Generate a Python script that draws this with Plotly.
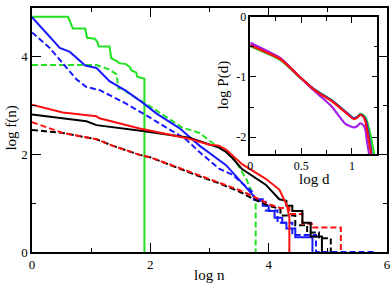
import plotly.graph_objects as go

# ---------------- main panel data: log f(n) vs log n ----------------
gs_x = [0, 0.61, 0.69, 0.9, 0.93, 1.06, 1.1, 1.13, 1.31, 1.34, 1.45, 1.47, 1.59, 1.62, 1.66, 1.68, 1.76, 1.78, 1.9, 1.9]
gs_y = [4.82, 4.82, 4.58, 4.58, 4.39, 4.37, 4.32, 4.21, 4.21, 3.97, 3.9, 3.87, 3.85, 3.82, 3.78, 3.72, 3.68, 3.59, 3.55, 0]

gd_x = [0, 1.09, 1.31, 1.43, 1.46, 1.52, 1.65, 1.87, 2.0, 2.54, 2.83, 3.0, 3.28, 3.39, 3.62, 3.76, 3.78, 3.78]
gd_y = [3.83, 3.83, 3.74, 3.64, 3.35, 3.35, 3.24, 3.08, 2.98, 2.55, 2.44, 2.28, 2.05, 1.96, 1.5, 1.1, 1.0, 0]

bs_x = [0, 0.47, 0.64, 0.9, 1.09, 1.31, 1.59, 1.87, 2.1, 2.49, 2.83, 3.28, 3.6, 3.79, 3.9, 3.9, 4.0, 4.0, 4.1, 4.1, 4.23, 4.23, 4.3, 4.3, 4.45, 4.45, 4.74, 4.74]
bs_y = [4.81, 4.18, 4.1, 3.82, 3.77, 3.5, 3.3, 3.06, 2.84, 2.54, 2.18, 1.78, 1.35, 1.08, 1.08, 0.95, 0.95, 0.84, 0.84, 0.7, 0.7, 0.6, 0.6, 0.48, 0.48, 0.3, 0.3, 0]

bd_x = [0, 0.3, 0.75, 0.92, 1.14, 1.48, 1.59, 1.93, 2.6, 2.83, 3.16, 3.39, 3.67, 3.75, 3.75, 3.95, 3.95, 4.15, 4.15, 4.4, 4.4, 4.8, 4.8, 5.8]
bd_y = [4.5, 4.18, 3.54, 3.38, 3.32, 3.12, 3.04, 2.8, 2.31, 2.05, 1.71, 1.58, 1.3, 1.2, 1.05, 1.05, 0.85, 0.85, 0.6, 0.6, 0.35, 0.35, 0, 0]

ks_x = [0, 0.52, 0.92, 1.09, 1.5, 1.87, 2.66, 3.0, 3.16, 3.28, 3.39, 3.55, 3.95, 4.18, 4.3, 4.3, 4.4, 4.4, 4.57, 4.57, 4.71, 4.71, 4.9, 4.9]
ks_y = [2.82, 2.74, 2.68, 2.6, 2.54, 2.48, 2.34, 2.2, 2.14, 2.05, 1.92, 1.7, 1.38, 1.08, 1.05, 0.95, 0.95, 0.84, 0.84, 0.6, 0.6, 0.32, 0.32, 0]

rs_x = [0, 0.52, 1.09, 1.14, 1.82, 2.66, 3.0, 3.16, 3.28, 3.39, 3.55, 3.95, 4.18, 4.31, 4.35, 4.35]
rs_y = [3.02, 2.86, 2.78, 2.74, 2.53, 2.32, 2.2, 2.18, 2.1, 1.98, 1.8, 1.5, 1.28, 0.95, 0.7, 0]

kd_x = [0, 0.52, 1.09, 1.36, 1.82, 2.0, 2.83, 3.16, 3.5, 3.79, 4.0, 4.2, 4.2, 4.45, 4.45, 4.65, 4.65, 4.85, 4.85, 5.05, 5.05]
kd_y = [2.5, 2.44, 2.31, 2.18, 1.99, 1.94, 1.55, 1.41, 1.24, 1.06, 0.95, 0.88, 0.75, 0.75, 0.55, 0.55, 0.4, 0.4, 0.28, 0.28, 0]

rd_x = [0, 0.52, 1.09, 1.36, 1.82, 2.0, 2.83, 3.16, 3.5, 3.79, 4.0, 4.2, 4.35, 4.35, 4.57, 4.57, 4.73, 4.73, 5.22, 5.22]
rd_y = [2.66, 2.44, 2.31, 2.18, 1.99, 1.94, 1.57, 1.43, 1.27, 1.11, 0.98, 0.9, 0.9, 0.78, 0.78, 0.58, 0.58, 0.5, 0.5, 0]

# ---------------- inset data: log P(d) vs log d ----------------
in_red_x = [0, 0.30, 0.48, 0.59, 0.675, 0.80, 0.935, 1.015, 1.05, 1.08, 1.11, 1.13, 1.16, 1.19]
in_red_y = [-0.475, -0.71, -0.99, -1.16, -1.27, -1.40, -1.59, -1.70, -1.68, -1.63, -1.66, -1.73, -2.0, -2.3]
in_grn_x = [0, 0.30, 0.48, 0.59, 0.675, 0.80, 0.935, 1.015, 1.05, 1.085, 1.115, 1.14, 1.18, 1.22]
in_grn_y = [-0.49, -0.725, -1.0, -1.155, -1.255, -1.385, -1.575, -1.685, -1.665, -1.615, -1.64, -1.70, -1.95, -2.3]
in_blu_x = [0, 0.30, 0.48, 0.59, 0.675, 0.80, 0.935, 1.015, 1.05, 1.08, 1.11, 1.135, 1.165, 1.195]
in_blu_y = [-0.465, -0.70, -0.99, -1.155, -1.26, -1.39, -1.58, -1.69, -1.67, -1.625, -1.65, -1.72, -1.98, -2.3]
in_pur_x = [0, 0.30, 0.48, 0.59, 0.675, 0.80, 0.935, 1.015, 1.05, 1.08, 1.11, 1.13, 1.15, 1.17]
in_pur_y = [-0.43, -0.69, -0.99, -1.17, -1.30, -1.49, -1.78, -1.84, -1.82, -1.77, -1.80, -1.86, -2.1, -2.3]

main_xticks = [0, 2, 4, 6]
main_yticks = [0, 2, 4]
inset_xticks = [0, 0.5, 1]
inset_xtext = ["0", "0.5", "1"]
inset_yticks = [0, -1, -2]
inset_ytext = ["0", "-1", "-2"]

GREEN = "#22e022"
BLUE = "#1a1aff"
RED = "#ff1010"
BLACK = "#000000"
PURPLE = "#a020e8"
FONT = "Liberation Serif"

fig = go.Figure()

def add_main(x, y, color, dash):
    fig.add_trace(go.Scatter(x=x, y=y, mode="lines", xaxis="x", yaxis="y",
                             line=dict(color=color, width=2, dash=dash),
                             hoverinfo="skip", showlegend=False))

add_main(gd_x, gd_y, GREEN, "6px,3px")
add_main(gs_x, gs_y, GREEN, "solid")
add_main(bd_x, bd_y, BLUE, "6px,3px")
add_main(bs_x, bs_y, BLUE, "solid")
add_main(kd_x, kd_y, BLACK, "6px,3px")
add_main(rd_x, rd_y, RED, "6px,3px")
add_main(ks_x, ks_y, BLACK, "solid")
add_main(rs_x, rs_y, RED, "solid")

def add_inset(x, y, color):
    fig.add_trace(go.Scatter(x=x, y=y, mode="lines", xaxis="x2", yaxis="y2",
                             line=dict(color=color, width=2.2, shape="spline", smoothing=0.5),
                             hoverinfo="skip", showlegend=False))

add_inset(in_grn_x, in_grn_y, GREEN)
add_inset(in_blu_x, in_blu_y, BLUE)
add_inset(in_pur_x, in_pur_y, PURPLE)
add_inset(in_red_x, in_red_y, RED)

axis_common = dict(showgrid=False, zeroline=False, showline=True, linecolor="black",
                   mirror="allticks", ticks="inside", tickcolor="black",
                   tickfont=dict(family=FONT, size=13, color="black"))

fig.update_layout(
    width=392, height=288,
    margin=dict(l=32, r=4, t=1, b=36),
    paper_bgcolor="white", plot_bgcolor="white",
    showlegend=False,
    xaxis=dict(**axis_common, range=[0, 6], tickvals=main_xticks, ticklen=9, tickwidth=1.2,
               linewidth=1.5, domain=[0, 1],
               minor=dict(dtick=1, tick0=0, ticks="inside", ticklen=4, tickcolor="black")),
    yaxis=dict(**axis_common, range=[0, 5], tickvals=main_yticks, ticklen=9, tickwidth=1.2,
               linewidth=1.5, domain=[0, 1],
               minor=dict(dtick=1, tick0=0, ticks="inside", ticklen=4, tickcolor="black")),
    xaxis2=dict(showgrid=False, zeroline=False, showline=True, linecolor="black",
                mirror="allticks", ticks="inside", tickcolor="black", linewidth=1.5,
                tickfont=dict(family=FONT, size=12, color="black"),
                range=[0, 1.25], tickvals=inset_xticks, ticktext=inset_xtext, ticklen=6,
                domain=[0.615, 0.973], anchor="y2",
                minor=dict(dtick=0.25, tick0=0, ticks="inside", ticklen=4, tickcolor="black")),
    yaxis2=dict(showgrid=False, zeroline=False, showline=True, linecolor="black",
                mirror="allticks", ticks="inside", tickcolor="black", linewidth=1.5,
                tickfont=dict(family=FONT, size=12, color="black"),
                range=[-2.28, 0], tickvals=inset_yticks, ticktext=inset_ytext, ticklen=6,
                domain=[0.402, 0.964], anchor="x2",
                minor=dict(dtick=0.5, tick0=0, ticks="inside", ticklen=4, tickcolor="black")),
    annotations=[
        dict(text="log n", xref="paper", yref="paper", x=0.5, y=-0.096, showarrow=False,
             xanchor="center", yanchor="middle", font=dict(family=FONT, size=15, color="black")),
        dict(text="log f(n)", xref="paper", yref="paper", x=-0.059, y=0.506, showarrow=False,
             textangle=-90, xanchor="center", yanchor="middle",
             font=dict(family=FONT, size=15, color="black")),
        dict(text="log d", xref="paper", yref="paper", x=0.795, y=0.299, showarrow=False,
             xanchor="center", yanchor="middle", font=dict(family=FONT, size=15, color="black")),
        dict(text="log P(d)", xref="paper", yref="paper", x=0.54, y=0.685, showarrow=False,
             textangle=-90, xanchor="center", yanchor="middle",
             font=dict(family=FONT, size=15, color="black")),
    ],
)

fig.write_html("out.html", config={"displayModeBar": False},
               post_script="document.body.style.margin='0px';document.body.style.overflow='hidden';")
